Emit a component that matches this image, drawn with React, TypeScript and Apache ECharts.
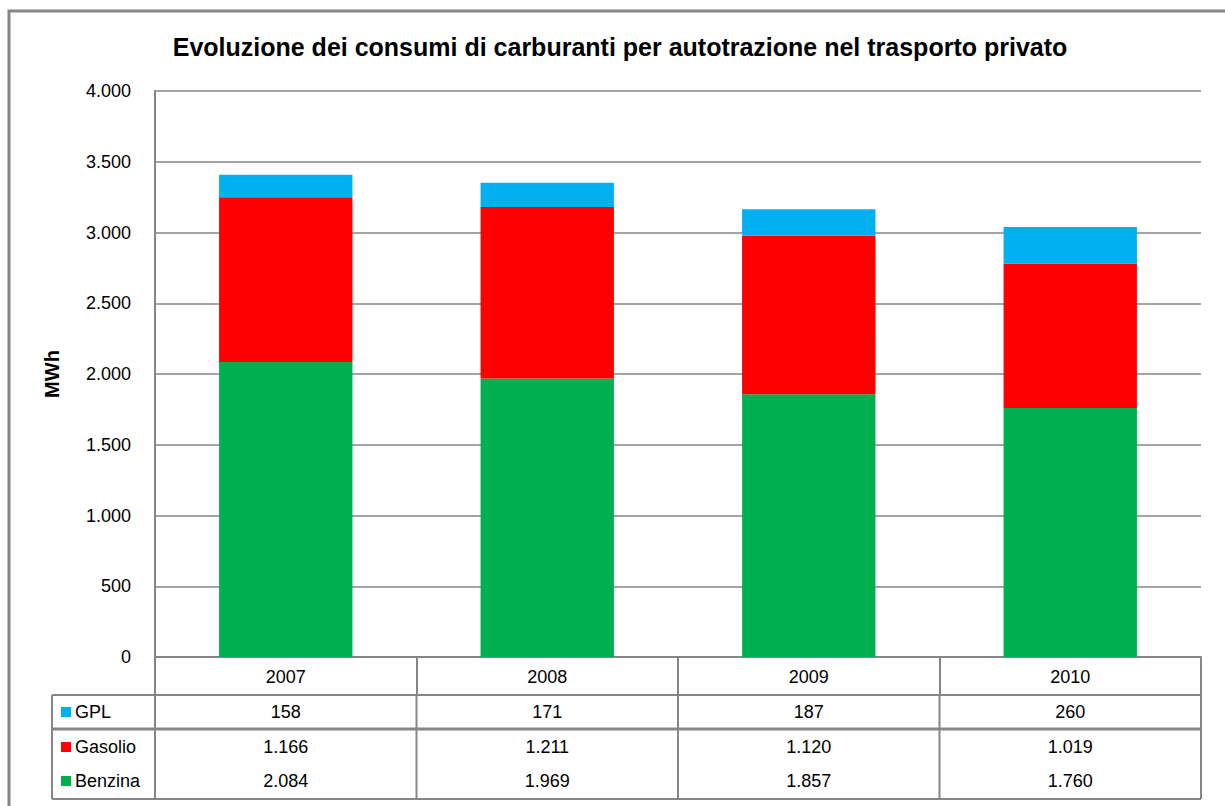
import React, { useEffect, useRef } from "react";
import * as echarts from "echarts";

const years = ["2007", "2008", "2009", "2010"];
const gplValues = [158, 171, 187, 260];
const gasolioValues = [1166, 1211, 1120, 1019];
const benzinaValues = [2084, 1969, 1857, 1760];
const seriesNames = ["GPL", "Gasolio", "Benzina"];
const seriesColors = ["#00B0F0", "#FF0000", "#00B050"];
const chartTitle = "Evoluzione dei consumi di carburanti per autotrazione nel trasporto privato";
const yAxisName = "MWh";

const FONT = "'Liberation Sans', Arial, sans-serif";
const GRID = "#868686";

const fmt = (v: number) => String(v).replace(/\B(?=(\d{3})+(?!\d))/g, ".");

export default function App() {
  const ref = useRef<HTMLDivElement>(null);
  useEffect(() => {
    document.body.style.margin = "0";
    if (!ref.current) return;
    const chart = echarts.init(ref.current, null, { renderer: "svg" });
    const rows = [gplValues, gasolioValues, benzinaValues];
    chart.setOption({
      animation: false,
      backgroundColor: "#fff",
      textStyle: { fontFamily: FONT },
      grid: { left: 155, top: 91, right: 24, bottom: 149, containLabel: false },
      xAxis: {
        type: "category",
        data: years,
        axisLine: { lineStyle: { color: GRID, width: 2 } },
        axisTick: { show: true, length: 38, lineStyle: { color: GRID, width: 2 } },
        axisLabel: { color: "#000", fontSize: 18, margin: 11, fontFamily: FONT },
      },
      yAxis: {
        type: "value",
        min: 0,
        max: 4000,
        interval: 500,
        name: yAxisName,
        nameLocation: "middle",
        nameRotate: 90,
        nameGap: 93,
        nameTextStyle: { color: "#000", fontSize: 20, fontWeight: "bold", fontFamily: FONT },
        axisLine: { show: true, lineStyle: { color: GRID, width: 2 } },
        axisTick: { show: false },
        axisLabel: { color: "#000", fontSize: 18, margin: 24, formatter: (v: number) => fmt(v), fontFamily: FONT },
        splitLine: { lineStyle: { color: GRID, width: 1.5 } },
      },
      series: [
        { name: seriesNames[2], type: "bar", stack: "t", data: benzinaValues, barWidth: "51%", itemStyle: { color: seriesColors[2] } },
        { name: seriesNames[1], type: "bar", stack: "t", data: gasolioValues, barWidth: "51%", itemStyle: { color: seriesColors[1] } },
        { name: seriesNames[0], type: "bar", stack: "t", data: gplValues, barWidth: "51%", itemStyle: { color: seriesColors[0] } },
      ],
    });

    const x0 = chart.convertToPixel({ xAxisIndex: 0 }, years[0]) as number;
    const x1 = chart.convertToPixel({ xAxisIndex: 0 }, years[1]) as number;
    const band = x1 - x0;
    const left = x0 - band / 2;
    const right = left + band * years.length;
    const tableLeft = 52;
    const rowTop = 695;
    const rowSplit = 729;
    const tableBottom = 799;
    const rowY = [712, 747, 781];
    const lineStyle = { stroke: GRID, lineWidth: 2 };
    const g: any[] = [];
    g.push({ type: "rect", shape: { x: 9, y: 11, width: 1400, height: 1000 }, style: { fill: "none", stroke: GRID, lineWidth: 3 }, silent: true });
    g.push({ type: "text", x: 620, y: 47, style: { text: chartTitle, font: `bold 25px ${FONT}`, fill: "#000", textAlign: "center", textVerticalAlign: "middle" } });
    [rowTop, rowSplit, tableBottom].forEach((y, i) =>
      g.push({ type: "line", shape: { x1: tableLeft, y1: y, x2: right, y2: y }, style: { ...lineStyle, lineWidth: i === 1 ? 3 : 2 } })
    );
    g.push({ type: "line", shape: { x1: tableLeft, y1: rowTop, x2: tableLeft, y2: tableBottom }, style: lineStyle });
    for (let i = 0; i <= years.length; i++) {
      const x = left + band * i;
      g.push({ type: "line", shape: { x1: x, y1: rowTop, x2: x, y2: tableBottom }, style: lineStyle });
    }
    rows.forEach((vals, r) => {
      g.push({ type: "rect", shape: { x: 61, y: rowY[r] - 5, width: 10, height: 10 }, style: { fill: seriesColors[r] } });
      g.push({ type: "text", x: 75, y: rowY[r], style: { text: seriesNames[r], font: `18px ${FONT}`, fill: "#000", textVerticalAlign: "middle" } });
      vals.forEach((v, c) => {
        const cx = chart.convertToPixel({ xAxisIndex: 0 }, years[c]) as number;
        g.push({ type: "text", x: cx, y: rowY[r], style: { text: fmt(v), font: `18px ${FONT}`, fill: "#000", textAlign: "center", textVerticalAlign: "middle" } });
      });
    });
    chart.setOption({ graphic: g });
    return () => chart.dispose();
  }, []);
  return <div ref={ref} style={{ width: 1225, height: 806 }} />;
}
